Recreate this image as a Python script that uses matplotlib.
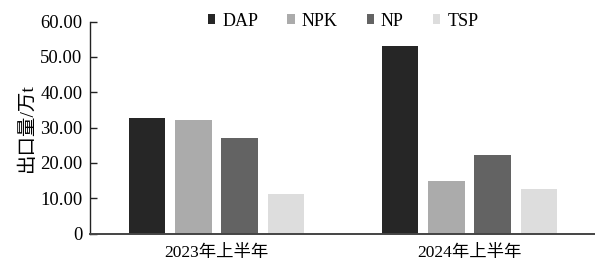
import matplotlib
matplotlib.use("Agg")
import matplotlib.pyplot as plt
import numpy as np
from matplotlib.patches import Patch

plt.rcParams['font.family'] = ['Liberation Serif', 'Noto Sans CJK SC']

categories = ['2023年上半年', '2024年上半年']
series_names = ['DAP', 'NPK', 'NP', 'TSP']
values = {
    'DAP': [32.6, 53.1],
    'NPK': [32.1, 14.9],
    'NP': [26.9, 22.1],
    'TSP': [11.2, 12.7],
}
colors = ['#262626', '#ababab', '#636363', '#dddddd']
yticks = [0, 10, 20, 30, 40, 50, 60]
ytick_labels = ['0', '10.00', '20.00', '30.00', '40.00', '50.00', '60.00']

fig = plt.figure(figsize=(5.95, 2.61), dpi=100)
ax = fig.add_axes([90/595, 1 - 233.5/261, 506/595, 212/261])

x = np.arange(len(categories))
step = 0.182
width = 0.1426
for i, name in enumerate(series_names):
    ax.bar(x + (i - 1.5) * step, values[name], width, color=colors[i], label=name)

ax.set_xlim(-0.5, 1.5)
ax.set_ylim(0, 60)
ax.set_yticks(yticks)
ax.set_yticklabels(ytick_labels, fontsize=13.4)
ax.set_xticks(x)
ax.set_xticklabels(categories, fontsize=12.5)
ax.tick_params(axis='x', length=0, pad=8.5)
ax.tick_params(axis='y', length=5, width=1, direction='in', pad=5.5, color='#222222')
for s in ['top', 'right']:
    ax.spines[s].set_visible(False)
ax.spines['left'].set_color('#222222')
ax.spines['left'].set_linewidth(1.0)
ax.spines['bottom'].set_color('#444444')
ax.spines['bottom'].set_linewidth(1.4)
ax.set_ylabel('出口量/万t', fontsize=14, labelpad=3)

handles = [Patch(facecolor=c, edgecolor='none') for c in colors]
leg = fig.legend(handles, series_names, loc='center left',
                 bbox_to_anchor=(208/595, 1 - 21/261), bbox_transform=fig.transFigure,
                 ncol=4, frameon=False, fontsize=13, handlelength=0.4, handleheight=0.4,
                 handletextpad=0.4, columnspacing=1.6, borderpad=0, borderaxespad=0)

fig.savefig('out.png', dpi=100)
